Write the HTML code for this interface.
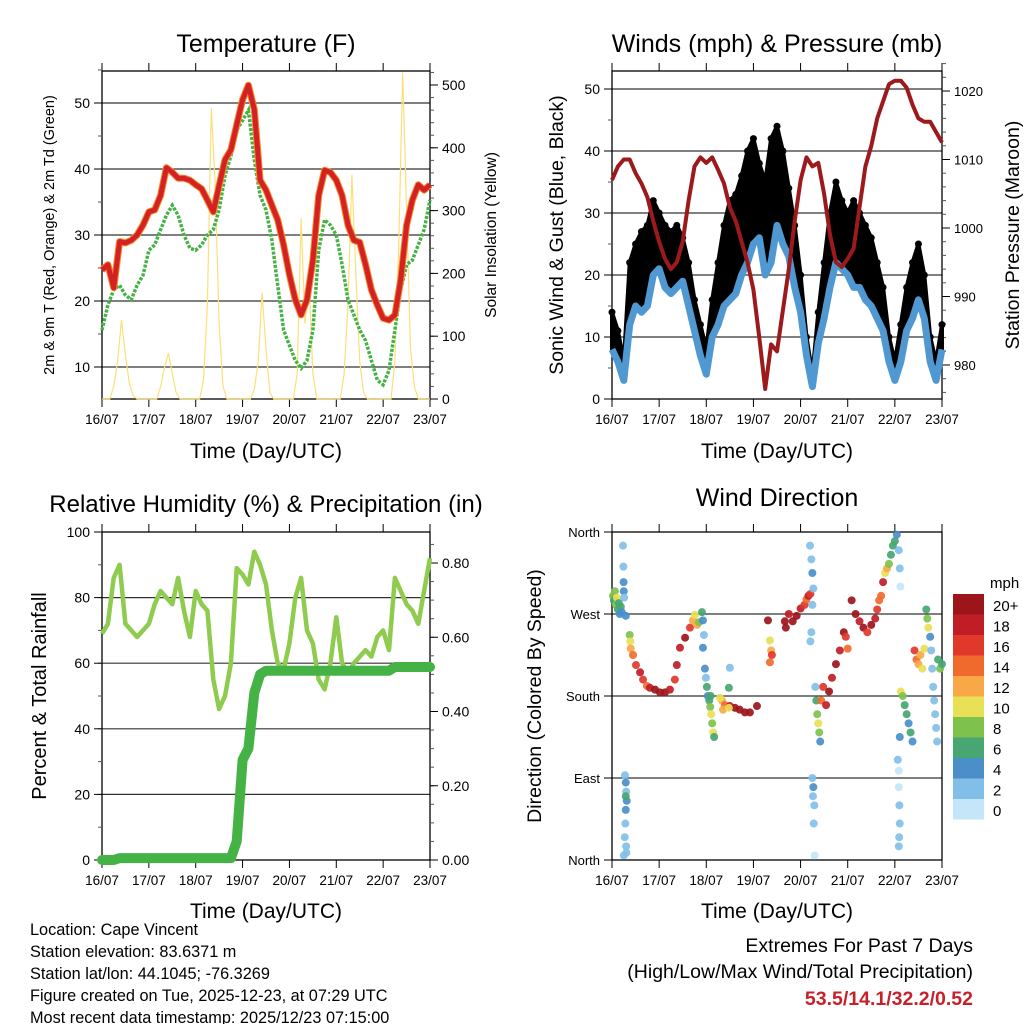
<!DOCTYPE html>
<html><head><meta charset="utf-8"><style>
html,body{margin:0;padding:0;background:#fff;}
svg{display:block;font-family:"Liberation Sans",Arial,sans-serif;}
</style></head><body>
<svg id="chart" xmlns="http://www.w3.org/2000/svg" width="1024" height="1024" viewBox="0 0 1024 1024">
<rect width="1024" height="1024" fill="#fff"/>
<g id="layer"></g>
<text x="266" y="52" font-size="25" text-anchor="middle">Temperature (F)</text>
<text x="777" y="52" font-size="25" text-anchor="middle">Winds (mph) &amp; Pressure (mb)</text>
<text x="266" y="512" font-size="24" text-anchor="middle">Relative Humidity (%) &amp; Precipitation (in)</text>
<text x="777" y="506" font-size="25" text-anchor="middle">Wind Direction</text>
<text transform="translate(54,235) rotate(-90)" font-size="14.5" text-anchor="middle">2m &amp; 9m T (Red, Orange) &amp; 2m Td (Green)</text>
<text transform="translate(496,235) rotate(-90)" font-size="15.5" text-anchor="middle">Solar Insolation (Yellow)</text>
<text transform="translate(563,235) rotate(-90)" font-size="19.5" text-anchor="middle">Sonic Wind &amp; Gust (Blue, Black)</text>
<text transform="translate(1019,235) rotate(-90)" font-size="19.5" text-anchor="middle">Station Pressure (Maroon)</text>
<text transform="translate(46,696) rotate(-90)" font-size="20" text-anchor="middle">Percent &amp; Total Rainfall</text>
<text transform="translate(541,696) rotate(-90)" font-size="19.5" text-anchor="middle">Direction (Colored By Speed)</text>
<text x="266" y="458" font-size="21" text-anchor="middle">Time (Day/UTC)</text>
<text x="777" y="458" font-size="21" text-anchor="middle">Time (Day/UTC)</text>
<text x="266" y="918" font-size="21" text-anchor="middle">Time (Day/UTC)</text>
<text x="777" y="918" font-size="21" text-anchor="middle">Time (Day/UTC)</text>
<g font-size="16.3">
<text x="30" y="935">Location: Cape Vincent</text>
<text x="30" y="957">Station elevation: 83.6371 m</text>
<text x="30" y="979">Station lat/lon: 44.1045; -76.3269</text>
<text x="30" y="1001">Figure created on Tue, 2025-12-23, at 07:29 UTC</text>
<text x="30" y="1023">Most recent data timestamp: 2025/12/23 07:15:00</text>
</g>
<g font-size="19.5" text-anchor="end">
<text x="973" y="952">Extremes For Past 7 Days</text>
<text x="973" y="978">(High/Low/Max Wind/Total Precipitation)</text>
<text x="973" y="1005" fill="#c8202a" font-weight="bold">53.5/14.1/32.2/0.52</text>
</g>
<text x="990" y="588" font-size="15">mph</text>
</svg>
<script>
// ---- data (3-hour grid, 16/07 00 UTC .. 23/07 00 UTC) ----
const dayLabels = ["16/07","17/07","18/07","19/07","20/07","21/07","22/07","23/07"];
const temp2m = [24.7,25.5,22,29,28.8,29.2,30,31.5,33.5,33.8,36,40.2,39.5,38.6,38.6,38.3,37.6,37,35.3,33.5,37.5,41.4,42.9,46.7,50.5,52.7,49,38.3,36.8,34.5,32.3,28.5,24,20.2,17.9,20.2,26.2,36,39.8,39.5,38.3,36,31.5,29.2,28.9,25.5,21.7,19.4,17.4,17.1,17.9,23.2,31.5,35.3,37.6,36.8,37.6];
const dewpoint = [15.6,19.4,21.7,22.4,20.9,20.2,22.4,23.9,27.7,28.5,30.8,33,34.5,33,30,28,27.7,28.5,30,30.8,33.8,39,42,45.9,47.4,48.9,41.4,36,33.8,29.2,22.4,15.6,13.3,11,9.8,11,15.6,27.7,32.3,31.5,30,25.5,20.2,17.9,15.6,14,11,8,7.3,9.5,15.6,21.7,25.5,26.2,28.5,30.8,35.3];
// solar on 2-hour grid
const solar = [0,0,0,20,60,126,70,25,5,0,0,0,0,0,0,20,50,73,40,10,0,0,0,0,0,0,30,150,463,340,120,20,0,0,0,0,0,0,0,15,60,169,80,10,0,0,0,0,0,0,40,288,120,190,40,0,0,0,0,0,0,0,40,150,357,200,60,10,0,0,0,0,0,0,0,60,250,520,300,80,20,0,0,0,0];
const windSpeed = [8,6,3,12,15,14,15,20,21,18,17,18,19,15,11,7,4,10,12,15,16,17,20,22,25,26,20,22,28,25,23,18,14,7,2,9,13,18,22,21,20,18,18,16,15,13,11,6,3,6,11,13,16,13,6,3,8];
const windGust = [14,11,6,22,25,27,28,32,30,28,27,28,26,22,16,12,8,16,22,28,32,33,36,40,42,38,35,42,44,40,34,28,20,10,4,14,22,30,35,32,30,32,30,28,26,22,18,10,6,12,18,22,25,20,10,6,12];
const pressure = [1007,1009,1010,1010,1008,1006.5,1004.5,1001,998,995.5,994,995,998,1004,1009,1010.3,1009.5,1010.3,1008.5,1006.5,1003,1001,998,995,991,984,976.5,983,982,988,994,1001,1007,1010.3,1009,1009.5,1005,999,995,994.3,995.5,997,1003,1009,1012,1016,1018.5,1021,1021.5,1021.5,1020.5,1018,1016,1015.5,1015.5,1014,1012.5];
const humidity = [69,72,86,90,72,70,68,70,72,78,82,80,78,86,76,68,82,78,76,55,46,50,60,89,87,84,94,90,84,70,60,58,66,80,86,70,66,55,52,60,74,60,57,60,62,64,62,68,70,64,86,82,78,76,72,82,92];
const precip = [0,0,0,0.005,0.005,0.005,0.005,0.005,0.005,0.005,0.005,0.005,0.005,0.005,0.005,0.005,0.005,0.005,0.005,0.005,0.005,0.005,0.005,0.05,0.27,0.30,0.45,0.50,0.51,0.51,0.51,0.51,0.51,0.51,0.51,0.51,0.51,0.51,0.51,0.51,0.51,0.51,0.51,0.51,0.51,0.51,0.51,0.51,0.51,0.51,0.52,0.52,0.52,0.52,0.52,0.52,0.52];
// wind direction: hour since start, degrees, speed mph
const dirHours = [0.5,1,1.5,2,2.5,3,3.5,4,4.5,5,5.6,5.8,5.9,6,6.2,7,9,9.3,9.5,10.7,12.2,14.3,15.8,17.8,19.3,21.9,24.4,27,29.5,32,33,34.6,37.2,39.7,41.2,42.2,43.3,44.3,45.8,46.3,46.8,46.3,47.3,47.8,48.3,48.8,49.5,50,50.5,51,51.5,52,50.2,60,56,57.5,60,62.6,65,67.7,70.2,73.8,55,56.5,59.5,59.5,6.6,7,7.2,7.5,7,6.8,6.5,7.2,6,7.3,7,79.4,80.4,81,81.4,80.4,88,90,92,94,96,98,99,100,101,88.5,100.8,101.5,102,102.5,102,101.5,101,102,102.5,102.3,103,102.7,103.2,103.5,104,104.5,105,105.5,106,106.5,107.5,109,110.5,112,114,116,118,119,120,122,124,126,128,130,132,134,135,136,137,138,139,140,141,142,143,144,145,146,146.5,146.8,147,148,149,150,151,152,153,146.5,145.5,146,146,146.3,146.5,146.2,146,154,155,156,157,158,159,160,160.5,161,162,162.5,163,163.5,164,164.5,165,165.5,166,167,168];
const dirDegrees = [290,285,295,280,288,275,282,270,278,272,345,322,305,295,288,268,247,240,232,225,214,206,198,191,189,187,184,184,187,198,214,233,244,255,263,269,258,261,272,263,247,233,210,200,190,180,175,168,160,150,140,135,180,211,175,170,169,167,165,162,162,169,178,165,189,167,93,85,75,65,55,40,25,15,5,8,70,263,241,230,225,217,262,270,262,268,276,280,286,290,292,255,345,330,315,298,280,250,240,90,80,70,60,40,5,190,175,160,150,140,130,175,190,170,185,200,215,230,250,245,232,285,270,262,255,250,258,265,275,285,290,305,315,320,325,335,345,350,357,340,320,300,185,180,170,160,150,140,130,135,110,98,80,60,40,25,15,230,220,215,225,210,232,275,265,255,245,230,210,190,175,160,145,130,220,210,215];
const dirSpeeds = [8,7,9,8,10,6,7,5,6,4,2,3,4,4,2,4,8,10,12,14,16,18,16,14,18,20,20,20,18,16,18,18,20,16,12,10,12,8,6,4,3,4,4,3,6,5,7,9,10,8,10,7,6,2,12,14,18,20,20,20,20,20,10,12,6,10,3,4,2,4,5,3,2,2,2,2,6,20,10,12,16,14,20,18,20,20,18,16,14,18,16,20,2,3,4,2,3,2,2,2,4,2,2,3,1,2,6,8,10,8,4,14,16,18,20,18,20,18,20,16,14,20,20,18,20,16,20,18,16,14,14,18,10,12,8,6,7,6,4,2,2,1,10,8,7,6,5,6,4,4,2,1,1,2,2,3,2,16,14,12,12,10,10,6,8,10,5,2,2,2,2,2,2,2,6,8,6];
const speedBinLabels = ["20+","18","16","14","12","10","8","6","4","2","0"];
const speedBinColors = ["#9b151b","#bf1e26","#e0392b","#f16a2d","#f8a847","#e8e056","#7ec24d","#47a672","#4a8fc8","#82bfe8","#c4e6f8"];

const NS = "http://www.w3.org/2000/svg";
const layer = document.getElementById("layer");
function mk(tag, attrs, parent) {
  const e = document.createElementNS(NS, tag);
  for (const k in attrs) e.setAttribute(k, attrs[k]);
  (parent || layer).appendChild(e);
  return e;
}
function grp(name) {
  const g = mk("g", {});
  
  
  return g;
}
function pathFrom(vals, xf, yf) {
  return vals.map((v, i) => (i ? "L" : "M") + xf(i).toFixed(1) + "," + yf(v).toFixed(1)).join("");
}

const P = {
  tl: {x0: 102, x1: 430, y0: 71, y1: 399},
  tr: {x0: 612, x1: 942, y0: 71, y1: 399},
  bl: {x0: 102, x1: 430, y0: 532, y1: 860},
  br: {x0: 612, x1: 942, y0: 532, y1: 860}
};
function xAxisFn(p) { return h => p.x0 + h * (p.x1 - p.x0) / 168; }
function frame(p, name, gridYs) {
  const g = grp(name);
  gridYs.forEach(y => mk("line", {x1: p.x0, x2: p.x1, y1: y, y2: y, stroke: "#333", "stroke-width": 1.2}, g));
  mk("rect", {x: p.x0, y: p.y0, width: p.x1 - p.x0, height: p.y1 - p.y0, fill: "none", stroke: "#000", "stroke-width": 1.3}, g);
  const xf = xAxisFn(p);
  dayLabels.forEach((d, i) => {
    const x = xf(i * 24);
    mk("line", {x1: x, x2: x, y1: p.y0 - 8, y2: p.y0, stroke: "#000", "stroke-width": 1}, g);
    mk("line", {x1: x, x2: x, y1: p.y1, y2: p.y1 + 8, stroke: "#000", "stroke-width": 1}, g);
    const t = mk("text", {x: x, y: p.y1 + 25, "font-size": 13.5, "text-anchor": "middle"}, g);
    t.textContent = d;
    
    
  });
  return g;
}
function yTicks(g, p, side, vals, yf, labels, minorVals, fs) {
  const x = side === "l" ? p.x0 : p.x1;
  const dir = side === "l" ? -1 : 1;
  (minorVals || []).forEach(v => mk("line", {x1: x, x2: x + dir * 4, y1: yf(v), y2: yf(v), stroke: "#555", "stroke-width": 1}, g));
  vals.forEach((v, i) => {
    mk("line", {x1: x, x2: x + dir * 8, y1: yf(v), y2: yf(v), stroke: "#000", "stroke-width": 1}, g);
    const t = mk("text", {x: x + dir * 12, y: yf(v) + 5, "font-size": fs || 14, "text-anchor": side === "l" ? "end" : "start"}, g);
    t.textContent = labels[i];
    
    
  });
}
function range(a, b, s) { const r = []; for (let v = a; v <= b + 1e-9; v += s) r.push(+v.toFixed(4)); return r; }

// ===== Panel 1: temperature =====
(function(){
  const p = P.tl, xh = xAxisFn(p);
  const yT = v => 367 - (v - 10) * 6.6;
  const yS = s => 399 - s * 0.628;
  const g = frame(p, "temperature-panel", [10,20,30,40,50].map(yT));
  yTicks(g, p, "l", [10,20,30,40,50], yT, ["10","20","30","40","50"], range(10,55,5), 14);
  yTicks(g, p, "r", [0,100,200,300,400,500], yS, ["0","100","200","300","400","500"], range(0,520,20), 14);
  const sp = mk("path", {d: pathFrom(solar, i => xh(i * 2), yS), fill: "none", stroke: "#fbe07a", "stroke-width": 1.2});
  
  
  const dp = mk("path", {d: pathFrom(dewpoint, i => xh(i * 3), yT), fill: "none", stroke: "#44b244", "stroke-width": 3.5, "stroke-dasharray": "3 1.5"});
  
  
  const op = mk("path", {d: pathFrom(temp2m, i => xh(i * 3), yT), fill: "none", stroke: "#f58a2a", "stroke-width": 7, "stroke-linejoin": "round"});
  
  
  const rp = mk("path", {d: pathFrom(temp2m, i => xh(i * 3), yT), fill: "none", stroke: "#d42224", "stroke-width": 5, "stroke-linejoin": "round"});
  
  
})();

// ===== Panel 2: winds & pressure =====
(function(){
  const p = P.tr, xh = xAxisFn(p);
  const yW = v => 399 - v * 6.2;
  const yP = v => 365 - (v - 980) * 6.85;
  const g = frame(p, "winds-panel", [10,20,30,40,50].map(yW));
  yTicks(g, p, "l", [0,10,20,30,40,50], yW, ["0","10","20","30","40","50"], range(0,50,5), 14);
  yTicks(g, p, "r", [980,990,1000,1010,1020], yP, ["980","990","1000","1010","1020"], range(976,1024,2), 13);
  let d = windGust.map((v,i) => (i ? "L" : "M") + xh(i*3).toFixed(1) + "," + yW(v).toFixed(1)).join("");
  for (let i = windSpeed.length - 1; i >= 0; i--) d += "L" + xh(i*3).toFixed(1) + "," + yW(windSpeed[i]).toFixed(1);
  const band = mk("path", {d: d + "Z", fill: "#000", stroke: "#000", "stroke-width": 4, "stroke-linejoin": "round"});
  
  
  windGust.forEach((v, i) => {
    const c = mk("circle", {cx: xh(i*3), cy: yW(v), r: 3.5, fill: "#000"});
    
    
  });
  const wl = mk("path", {d: pathFrom(windSpeed, i => xh(i*3), yW), fill: "none", stroke: "#4f98d2", "stroke-width": 7, "stroke-linejoin": "round"});
  
  
  const pl = mk("path", {d: pathFrom(pressure, i => xh(i*3), yP), fill: "none", stroke: "#9c1a1c", "stroke-width": 4, "stroke-linejoin": "round"});
  
  
})();

// ===== Panel 3: humidity & precipitation =====
(function(){
  const p = P.bl, xh = xAxisFn(p);
  const yR = v => 860 - v * 3.28;
  const yPr = v => 860 - v * 371.25;
  const g = frame(p, "humidity-panel", [20,40,60,80].map(yR));
  yTicks(g, p, "l", [0,20,40,60,80,100], yR, ["0","20","40","60","80","100"], range(0,100,10), 14);
  yTicks(g, p, "r", [0,0.2,0.4,0.6,0.8], yPr, ["0.00","0.20","0.40","0.60","0.80"], range(0,0.86,0.05), 14);
  const hl = mk("path", {d: pathFrom(humidity, i => xh(i*3), yR), fill: "none", stroke: "#8fcb4e", "stroke-width": 4.5, "stroke-linejoin": "round"});
  
  
  const pl = mk("path", {d: pathFrom(precip, i => xh(i*3), yPr), fill: "none", stroke: "#44b244", "stroke-width": 10, "stroke-linejoin": "round", "stroke-linecap": "round"});
  
  
})();

// ===== Panel 4: wind direction =====
(function(){
  const p = P.br, xh = xAxisFn(p);
  const yD = v => 860 - v * 328 / 360;
  const g = frame(p, "wind-direction-panel", [90,180,270].map(yD));
  yTicks(g, p, "l", [0,90,180,270,360], yD, ["North","East","South","West","North"], [], 13);
  dirHours.forEach((h, i) => {
    const bin = Math.min(10, Math.floor(dirSpeeds[i] / 2));
    const c = mk("circle", {cx: xh(h), cy: yD(dirDegrees[i]), r: 4, fill: speedBinColors[10 - bin], "fill-opacity": 0.92});
    
    
  });
  const cb = grp("speed-colorbar");
  speedBinLabels.forEach((lab, i) => {
    const y = 594 + i * 20.5;
    const r = mk("rect", {x: 953, y: y, width: 31, height: 20.5, fill: speedBinColors[i]}, cb);
    
    
    const t = mk("text", {x: 993, y: y + 17, "font-size": 15}, cb);
    t.textContent = lab;
    
    
  });
})();
</script>
</body></html>
